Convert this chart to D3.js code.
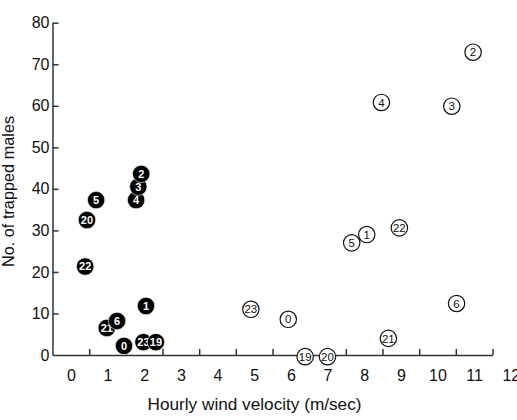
<!DOCTYPE html>
<html>
<head>
<meta charset="utf-8">
<script src="https://cdn.jsdelivr.net/npm/d3@7"></script>
<style>
  body { margin: 0; background: #fff; }
  svg { display: block; font-family: "Liberation Sans", Arial, sans-serif; }
  .axis path, .axis line { stroke: #333; stroke-width: 1.5; }
  .axis text { font-size: 16px; fill: #111; font-family: "Liberation Sans", Arial, sans-serif; }
  .title { fill: #111; }
</style>
</head>
<body>
<svg id="chart" width="517" height="420" viewBox="0 0 517 420"></svg>
<script>
/* ── data (x read against the printed labels) ───────────────────────────── */

// filled circles
const blackHour = [22, 20, 5, 4, 3, 2, 1, 21, 6, 0, 23, 19];
const blackWind = [0.39, 0.44, 0.69, 1.78, 1.84, 1.92, 2.05, 0.98, 1.26, 1.45, 1.98, 2.32];
const blackCount = [21.3, 32.5, 37.3, 37.3, 40.5, 43.6, 11.8, 6.5, 8.2, 2.2, 3.1, 3.1];

// open circles
const whiteHour = [2, 4, 3, 22, 5, 1, 6, 21, 23, 0, 19, 20];
const whiteWind = [10.97, 8.47, 10.39, 8.96, 7.66, 8.07, 10.52, 8.66, 4.91, 5.93, 6.39, 7.0];
const whiteCount = [72.9, 60.8, 59.9, 30.6, 27.0, 29.0, 12.4, 4.0, 11.0, 8.6, -0.4, -0.4];

const yTicks = d3.range(0, 81, 10);
const xTickMarks = d3.range(0.5, 12, 1);
const xTickLabels = d3.range(0, 13, 1);

/* ── layout ─────────────────────────────────────────────────────────────── */

const svg = d3.select("#chart");
const m = { left: 52.5, top: 22.7, right: 24.5, bottom: 65 };
const W = 517 - m.left - m.right;
const H = 420 - m.top - m.bottom;

const g = svg.append("g").attr("transform", `translate(${m.left},${m.top})`);

const x = d3.scaleLinear().domain([-0.5, 11.5]).range([0, W]);
const y = d3.scaleLinear().domain([0, 80]).range([H, 0]);

// y axis, ticks pointing inward
g.append("g")
  .attr("class", "axis")
  .call(d3.axisLeft(y).tickValues(yTicks).tickSize(-6).tickSizeOuter(0).tickPadding(3))
  .call((a) => a.selectAll(".tick").filter((d) => d === 0).select("line").remove());

// x axis line + ticks (between the labels)
g.append("g")
  .attr("class", "axis")
  .attr("transform", `translate(0,${H})`)
  .call(d3.axisBottom(x).tickValues(xTickMarks).tickSize(-6).tickSizeOuter(0).tickFormat(() => ""));

// x labels
g.append("g")
  .attr("class", "axis")
  .attr("transform", `translate(0,${H})`)
  .call(d3.axisBottom(x).tickValues(xTickLabels).tickSize(0).tickPadding(15))
  .call((a) => a.select(".domain").remove());

// axis titles
svg.append("text")
  .attr("class", "title")
  .attr("x", 254.5)
  .attr("y", 410)
  .attr("font-size", "17.2px")
  .attr("text-anchor", "middle")
  .text("Hourly wind velocity (m/sec)");

svg.append("text")
  .attr("class", "title")
  .attr("transform", "rotate(-90)")
  .attr("x", -191.5)
  .attr("y", 14)
  .attr("font-size", "16.3px")
  .attr("text-anchor", "middle")
  .text("No. of trapped males");

/* ── points ─────────────────────────────────────────────────────────────── */

const white = whiteHour.map((h, i) => ({ h, w: whiteWind[i], c: whiteCount[i] }));
const black = blackHour.map((h, i) => ({ h, w: blackWind[i], c: blackCount[i] }));

const wp = g.selectAll("g.open").data(white).enter().append("g")
  .attr("class", "open")
  .attr("transform", (d) => `translate(${x(d.w)},${y(d.c)})`);
wp.append("circle").attr("r", 8.2).attr("fill", "#fff").attr("stroke", "#111").attr("stroke-width", 1.2);
wp.append("text")
  .attr("text-anchor", "middle")
  .attr("dy", "0.36em")
  .attr("font-size", "11.5px")
  .attr("fill", "#111")
  .text((d) => d.h);

const bp = g.selectAll("g.filled").data(black).enter().append("g")
  .attr("class", "filled")
  .attr("transform", (d) => `translate(${x(d.w)},${y(d.c)})`);
bp.append("circle").attr("r", 8.7).attr("fill", "#000").attr("stroke", "#fff").attr("stroke-width", 0.6);
bp.append("text")
  .attr("text-anchor", "middle")
  .attr("dy", "0.36em")
  .attr("font-size", "11px")
  .attr("font-weight", "bold")
  .attr("fill", "#fff")
  .text((d) => d.h);
</script>
</body>
</html>
